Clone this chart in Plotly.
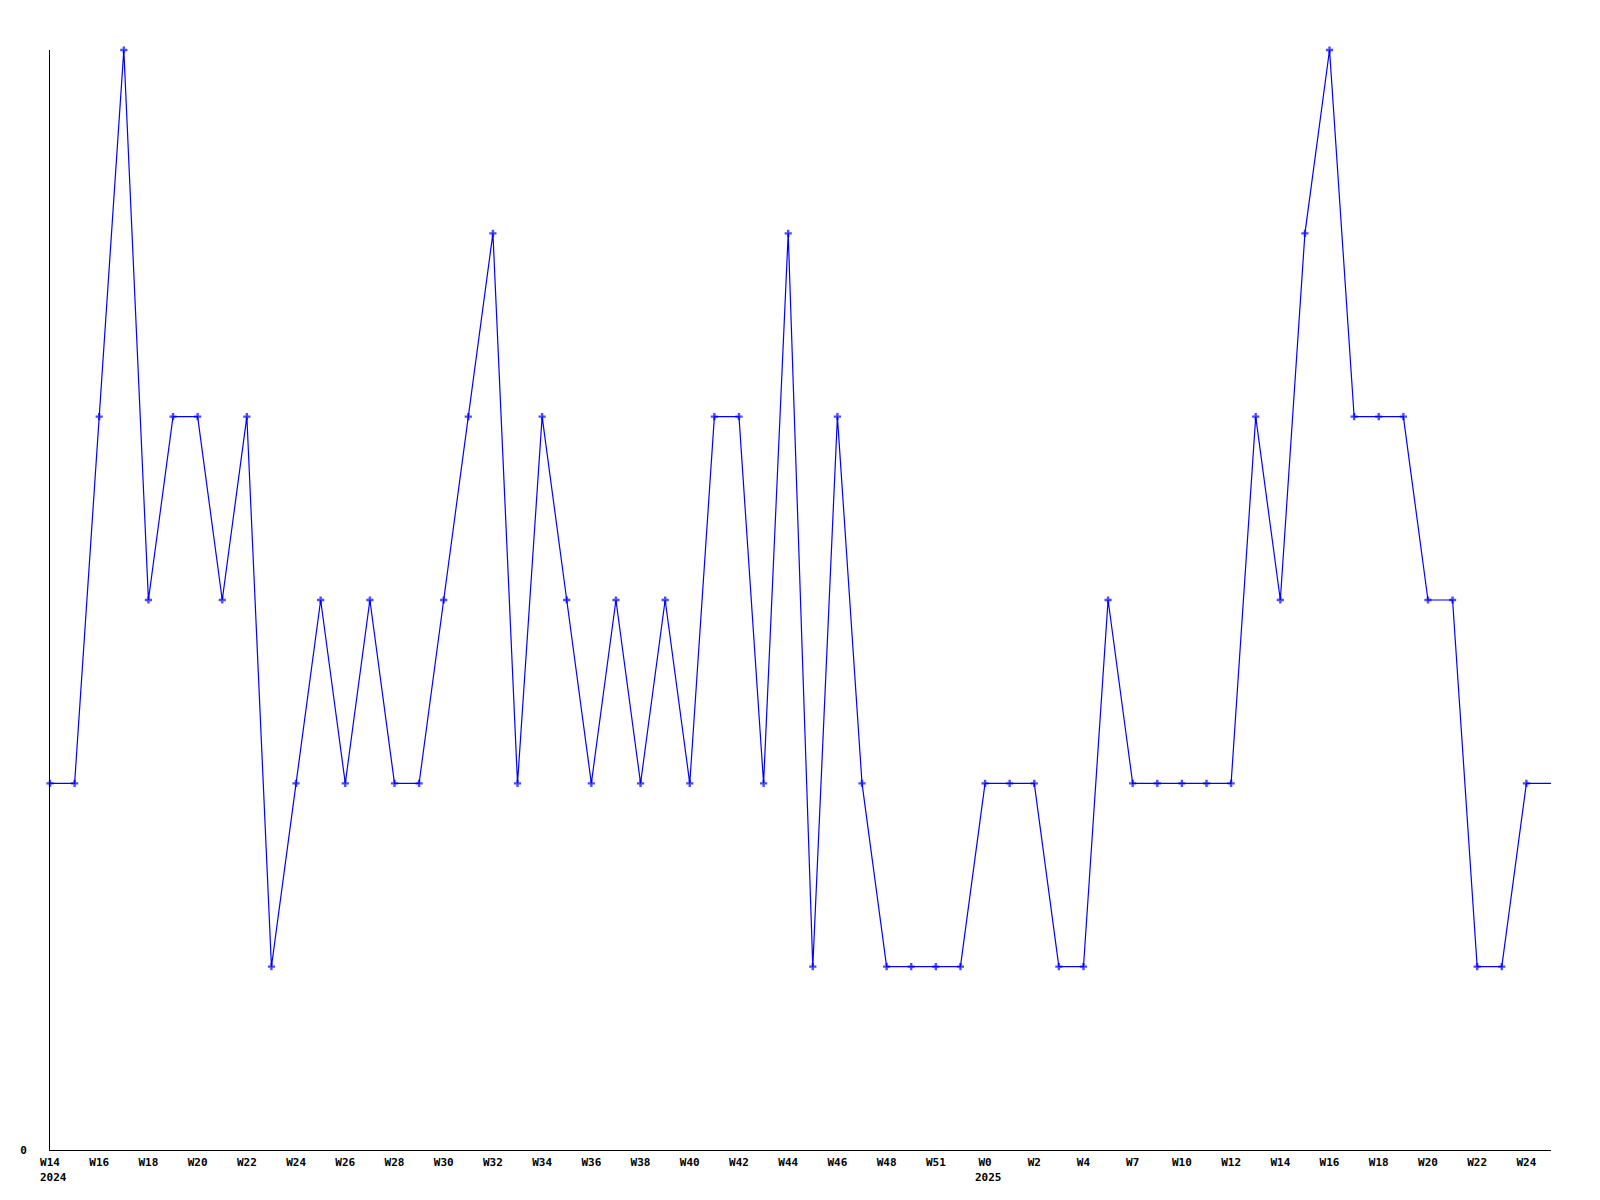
import plotly.graph_objects as go

# Weekly values (index 0 = 2024 W14)
values = [2, 2, 4, 6, 3, 4, 4, 3, 4, 1,
          2, 3, 2, 3, 2, 2, 3, 4, 5, 2,
          4, 3, 2, 3, 2, 3, 2, 4, 4, 2,
          5, 1, 4, 2, 1, 1, 1, 1, 2, 2,
          2, 1, 1, 3, 2, 2, 2, 2, 2, 4,
          3, 5, 6, 4, 4, 4, 3, 3, 1, 1,
          2, 2]
tick_labels = ["W14", "W16", "W18", "W20", "W22", "W24", "W26", "W28", "W30", "W32",
               "W34", "W36", "W38", "W40", "W42", "W44", "W46", "W48", "W51", "W0",
               "W2", "W4", "W7", "W10", "W12", "W14", "W16", "W18", "W20", "W22", "W24"]
year_labels = ["2024", "2025"]
year_positions = [0, 38]

x = list(range(len(values)))
tick_pos = list(range(0, 2 * len(tick_labels), 2))
sizes = [6] * (len(values) - 1) + [0]

fig = go.Figure()
fig.add_trace(go.Scatter(
    x=x, y=values, mode="lines+markers",
    line=dict(color="#0000ff", width=1.2),
    marker=dict(symbol="cross", size=sizes, color="#0000ff", line=dict(width=0)),
    cliponaxis=False, showlegend=False,
))

font = dict(family="DejaVu Sans Mono", size=11, color="black")
for lbl, pos in zip(year_labels, year_positions):
    fig.add_annotation(x=pos, y=0, xref="x", yref="paper", text="<b>" + lbl + "</b>",
                       showarrow=False, xanchor="left", yanchor="top",
                       xshift=-12, yshift=-19, font=font)

fig.update_layout(
    width=1600, height=1200,
    margin=dict(l=42, r=57, t=42, b=58),
    paper_bgcolor="white", plot_bgcolor="white",
    font=font,
    xaxis=dict(range=[0, len(values) - 1], tickmode="array", tickvals=tick_pos,
               ticktext=["<b>" + t + "</b>" for t in tick_labels],
               showgrid=False, zeroline=False, showline=True, linecolor="black", linewidth=1,
               ticks="outside", ticklen=2, tickcolor="rgba(0,0,0,0)", tickangle=0),
    yaxis=dict(range=[0, 6], tickmode="array", tickvals=[0], ticktext=["<b>0</b>"],
               showgrid=False, zeroline=False, showline=True, linecolor="black", linewidth=1,
               ticks="outside", ticklen=20, tickcolor="rgba(0,0,0,0)"),
)

fig.write_html("out.html")
